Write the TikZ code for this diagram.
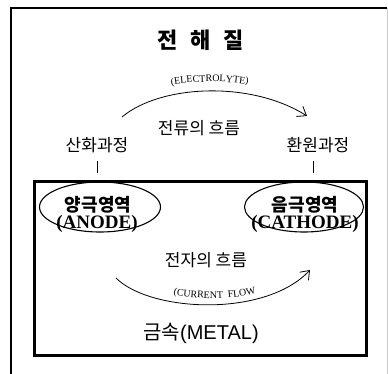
\documentclass[tikz,border=0pt]{standalone}
\usepackage{fontspec}
\setmainfont{Liberation Serif}
\newfontfamily\kr{Noto Sans CJK KR}
\newfontfamily\sansf{Liberation Sans}
\usetikzlibrary{arrows.meta,decorations.text,shapes.geometric}
\begin{document}
\begin{tikzpicture}[x=1pt,y=-1pt,
  krtext/.style={inner sep=0pt,font=\kr\fontsize{17}{17}\selectfont},
  krbold/.style={inner sep=0pt,font=\kr\bfseries\fontsize{18}{18}\selectfont},
  krtitle/.style={inner sep=0pt,font=\kr\bfseries\fontsize{22}{22}\selectfont},
  entext/.style={inner sep=0pt,font=\bfseries\fontsize{19}{19}\selectfont},
  flowarrow/.style={line width=0.8pt,-{Straight Barb[length=8pt,width=12pt,line width=0.8pt]}},
  tick/.style={line width=0.8pt},
  region/.style={draw,line width=1.1pt,ellipse,minimum width=121pt,minimum height=50pt,inner sep=0pt}]
\useasboundingbox (0,0) rectangle (388,374);
% outer frame
\draw[line width=1.2pt] (11,380) -- (11,8) -- (387,8);
\draw[black!20,line width=0.6pt] (387.5,8) -- (387.5,374);
% title
\node[krtitle] (t1) at (168,40) {전};
\node[krtitle] (t2) at (201,40) {해};
\node[krtitle] (t3) at (234,40) {질};
% electrolyte arc
\coordinate (ea) at (122,117);
\coordinate (eb) at (307,116);
\draw[flowarrow] (ea) .. controls (160,85) and (250,80) .. (eb);
\path[font=\fontsize{14}{14}\selectfont,decorate,decoration={text along path,text align=center,
  text={(ELECTROLYTE)}}]
  (128,100) .. controls (165,77) and (250,75) .. (292,98);
\node[krtext] (ion) at (199,128) {전류의 흐름};
\node[krtext] (ox) at (97,145) {산화과정};
\node[krtext] (red) at (318,145) {환원과정};
\coordinate (oxa) at (97,161);
\coordinate (oxb) at (97,173);
\coordinate (reda) at (313,161);
\coordinate (redb) at (313,173);
\draw[tick] (oxa) -- (oxb);
\draw[tick] (reda) -- (redb);
% metal block
\draw[line width=3pt] (34.5,182) rectangle (366.5,355);
\node[region] (anode) at (100,207) {};
\node[region,minimum width=119pt] (cathode) at (304,207) {};
\node[krbold] (an1) at (98,205) {양극영역};
\node[entext] (an2) at (97,224) {(ANODE)};
\node[krbold] (ca1) at (305,205) {음극영역};
\node[entext] (ca2) at (305,224) {(CATHODE)};
\node[krtext] (el) at (206,260) {전자의 흐름};
\coordinate (ca) at (116,278);
\coordinate (cb) at (310,270);
\draw[flowarrow] (ca) .. controls (150,312) and (265,318) .. (cb);
\path[font=\fontsize{15}{15}\selectfont,decorate,decoration={text along path,text align=center,
  text={(CURRENT{ }{ }FLOW}}]
  (130,278) .. controls (162,303) and (255,309) .. (298,273);
\node[inner sep=0pt] (metal) at (201,333) {\kr\fontsize{20}{20}\selectfont 금속\sansf(METAL)};
\end{tikzpicture}
\end{document}
